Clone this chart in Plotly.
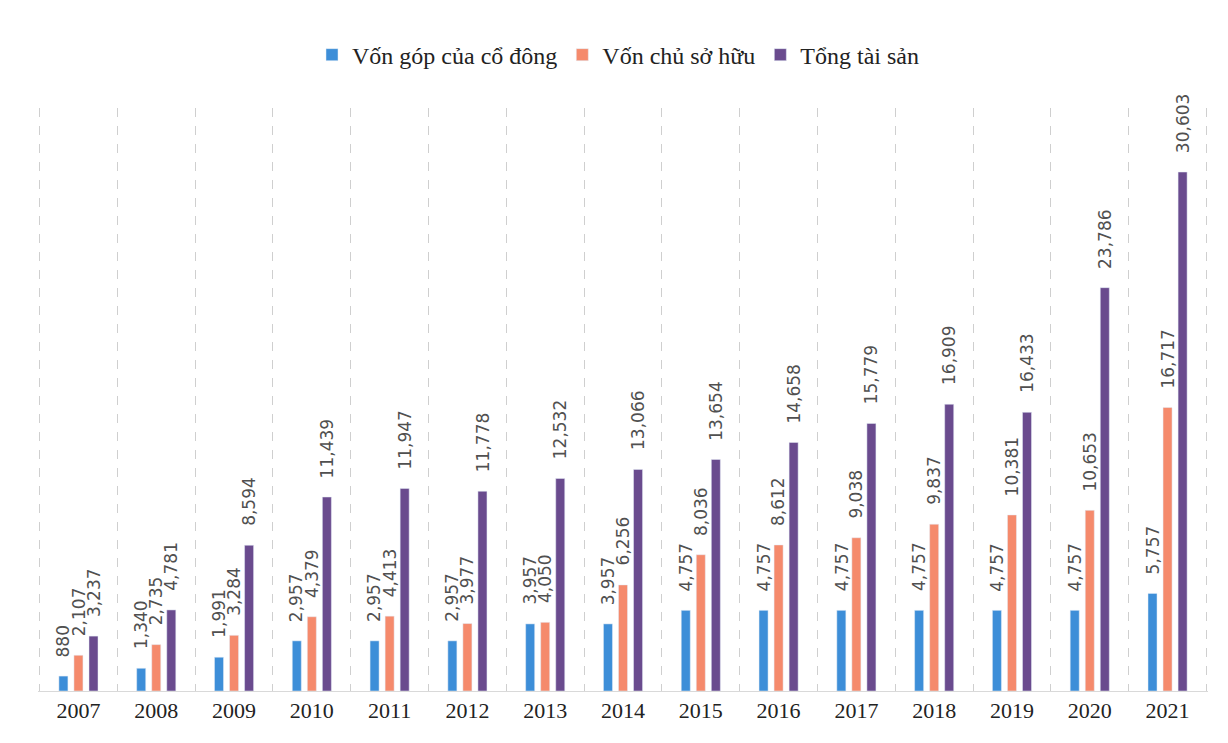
import plotly.graph_objects as go

years = ["2007", "2008", "2009", "2010", "2011", "2012", "2013", "2014",
         "2015", "2016", "2017", "2018", "2019", "2020", "2021"]
von_gop = [880, 1340, 1991, 2957, 2957, 2957, 3957, 3957, 4757, 4757, 4757, 4757, 4757, 4757, 5757]
von_csh = [2107, 2735, 3284, 4379, 4413, 3977, 4050, 6256, 8036, 8612, 9038, 9837, 10381, 10653, 16717]
tong_ts = [3237, 4781, 8594, 11439, 11947, 11778, 12532, 13066, 13654, 14658, 15779, 16909, 16433, 23786, 30603]

series = [
    ("Vốn góp của cổ đông", von_gop, "#3D8ED8"),
    ("Vốn chủ sở hữu", von_csh, "#F58A6C"),
    ("Tổng tài sản", tong_ts, "#6A4B8E"),
]

BARGAP = 0.42
XR = [-0.52, len(years) - 0.48]
fig = go.Figure()
for name, vals, col in series:
    fig.add_trace(go.Bar(x=years, y=vals, name=name, marker_color=col))

# invisible trace to host the between-category grid axis / label positions
fig.add_trace(go.Scatter(x=[-0.5, len(years) - 0.5], y=[0, 0], xaxis="x2",
                         mode="lines", line=dict(width=0), showlegend=False,
                         hoverinfo="skip"))

# data labels, rotated, placed above each bar
slot = (1 - BARGAP) / len(series)
annotations = []
for k, (name, vals, col) in enumerate(series):
    off = (k - (len(series) - 1) / 2) * slot
    for i, v in enumerate(vals):
        annotations.append(dict(
            x=i + off, y=v, xref="x2", yref="y", text=f"{v:,}",
            textangle=-90, showarrow=False, xanchor="center", yanchor="bottom",
            yshift=17, font=dict(family="DejaVu Sans", size=17, color="#505050"),
        ))

fig.update_layout(
    width=1220, height=735,
    paper_bgcolor="white", plot_bgcolor="white",
    margin=dict(l=30, r=20, t=100, b=52),
    barmode="group", bargap=BARGAP, bargroupgap=0.4,
    annotations=annotations,
    legend=dict(orientation="h", x=0.5, xanchor="center", xref="container",
                y=0.936, yanchor="middle", yref="container",
                font=dict(family="Liberation Serif", size=24, color="#222"),
                itemwidth=30, traceorder="normal"),
    xaxis=dict(type="category", range=XR, showgrid=False, showline=True,
               linecolor="#d9d9d9", linewidth=1, ticks="",
               tickfont=dict(family="Liberation Serif", size=22, color="#222")),
    xaxis2=dict(overlaying="x", range=XR, tick0=-0.5, dtick=1,
                showgrid=True, gridcolor="#cfcfcf", griddash="dash", gridwidth=1,
                showticklabels=False, zeroline=False, ticks=""),
    yaxis=dict(range=[0, 34380], showgrid=False, showticklabels=False,
               zeroline=False, showline=False, ticks=""),
)

fig.write_html("out.html")
